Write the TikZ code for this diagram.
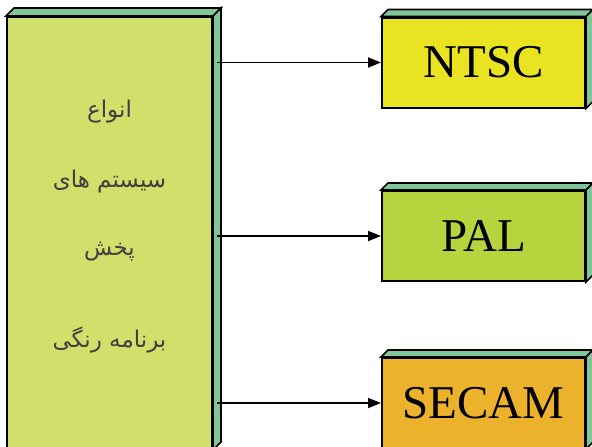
\documentclass[tikz,border=0pt]{standalone}
\usepackage{fontspec}
\setmainfont{Liberation Serif}
\newfontfamily\persianfont[Script=Arabic]{DejaVu Sans}
\TeXXeTstate=1
\usetikzlibrary{arrows.meta,calc}
\definecolor{leftfront}{HTML}{D2DF6B}
\definecolor{depthgreen}{HTML}{7FC797}
\definecolor{ntscyellow}{HTML}{EAE322}
\definecolor{palgreen}{HTML}{B7D33E}
\definecolor{secamorange}{HTML}{EDB22C}
\definecolor{darktext}{HTML}{404040}
\begin{document}
\begin{tikzpicture}[x=1pt, y=-1pt]
        \tikzstyle{slab} = [rectangle, draw, line width=2pt, inner sep=0pt, minimum width=203pt, minimum height=90pt, font=\fontsize{47}{50}\selectfont]
        \tikzstyle{face} = [fill=depthgreen, draw, line width=1.6pt]
        \tikzstyle{line} = [draw, line width=1.8pt, -{Triangle[length=13pt,width=10pt]}]
        \useasboundingbox (0,0) rectangle (592,447);
        \node [slab, fill=leftfront, minimum width=205pt, minimum height=432pt] (types) at (109.5,233) {};
        \node [text=darktext, align=center, font=\persianfont\fontsize{23}{34}\selectfont] (typetext) at (109.5,227)
            {\beginR انواع\endR\\[36pt]\beginR سیستم های\endR\\[34pt]\beginR پخش\endR\\[58pt]\beginR برنامه رنگی\endR};
        \node [slab, fill=ntscyellow] (ntsc) at (483.5,62.5) {NTSC};
        \node [slab, fill=palgreen] (pal) at (483.5,236) {PAL};
        \node [slab, fill=secamorange] (secam) at (483.5,403) {SECAM};
        % depth faces
        \foreach \n/\d in {types/8,ntsc/7,pal/7,secam/7} {
            \filldraw [face] (\n.north west) -- ++(\d,-\d) -- ($(\n.north east)+(\d,-\d)$) -- (\n.north east) -- cycle;
            \filldraw [face] (\n.north east) -- ++(\d,-\d) -- ($(\n.south east)+(\d,-\d)$) -- (\n.south east) -- cycle;
        }
        \foreach \n in {ntsc,pal,secam}
            \path [line] ([xshift=4pt]types.east |- \n.west) -- (\n.west);
    \end{tikzpicture}
\end{document}
